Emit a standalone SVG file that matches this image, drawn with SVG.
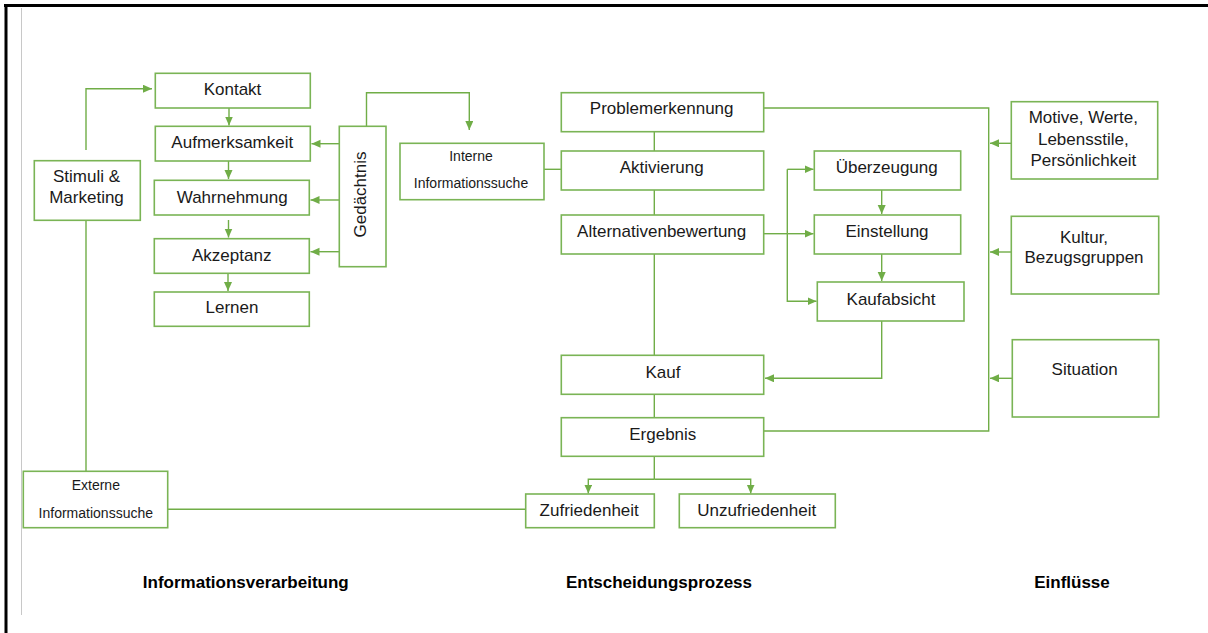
<svg xmlns="http://www.w3.org/2000/svg" width="1208" height="633" viewBox="0 0 1208 633">
<style>
.box{fill:#fff;stroke:#7ab455;stroke-width:1.6}
.t{font-family:"Liberation Sans",Arial,sans-serif;font-size:17px;fill:#1a1a1a;text-anchor:middle}
.s{font-size:14px}
.b{font-weight:bold;font-size:17px;fill:#000}
.c{fill:none;stroke:#70ad47;stroke-width:1.4}
.a{marker-end:url(#ah)}
</style>
<defs>
<marker id="ah" markerUnits="userSpaceOnUse" markerWidth="10" markerHeight="9" refX="9" refY="4" orient="auto">
<path d="M0,0 L9,4 L0,8 z" fill="#70ad47"/>
</marker>
</defs>
<rect width="1208" height="633" fill="#fff"/>
<line x1="4" y1="5.5" x2="1208" y2="5.5" stroke="#000" stroke-width="3"/>
<line x1="6" y1="4" x2="6" y2="633" stroke="#000" stroke-width="3"/>
<line x1="21.5" y1="8" x2="21.5" y2="615" stroke="#c8c8c8" stroke-width="1"/>

<g id="connectors">
<path class="c a" d="M86,150 V88.7 H152"/>
<path class="c" d="M86,220.3 V471"/>
<path class="c a" d="M229,108 V125.5"/>
<path class="c a" d="M228.5,161 V179"/>
<path class="c a" d="M228.5,220 V237.5"/>
<path class="c a" d="M228,273.3 V291"/>
<path class="c a" d="M339.3,143.7 H311.5"/>
<path class="c a" d="M339.3,200 H310.5"/>
<path class="c a" d="M339.3,251.7 H310.5"/>
<path class="c a" d="M366.5,126.3 V92.7 H469.3 V130"/>
<path class="c" d="M544,169.3 H561.3"/>
<path class="c" d="M654.3,131.7 V151"/>
<path class="c" d="M654.3,190 V215"/>
<path class="c" d="M654.3,254 V355.3"/>
<path class="c" d="M654.3,394.3 V417.7"/>
<path class="c" d="M763.7,233.7 H787.3"/>
<path class="c a" d="M787.3,169.3 H813.5"/>
<path class="c a" d="M787.3,233.7 H813.5"/>
<path class="c a" d="M787.3,233.7 V301.3 H816.5"/>
<path class="c" d="M787.3,169.3 V233.7"/>
<path class="c a" d="M881.7,190 V214"/>
<path class="c a" d="M881.7,254 V281"/>
<path class="c a" d="M881.7,321 V378.3 H765"/>
<path class="c" d="M763.7,108 H988.7 V431 H763.7"/>
<path class="c a" d="M1011.3,143.3 H990"/>
<path class="c a" d="M1011.3,252 H990"/>
<path class="c a" d="M1012.3,378.3 H990"/>
<path class="c" d="M654.3,456.3 V479.3"/>
<path class="c a" d="M654.3,479.3 H588.3 V493.5"/>
<path class="c a" d="M654.3,479.3 H750.7 V493.5"/>
<path class="c" d="M167.7,509.3 H525.7"/>
</g>

<g id="kontakt"><rect class="box" x="155.3" y="73.3" width="155" height="34.7"/><text class="t" x="232.5" y="94.5">Kontakt</text></g>
<g id="aufmerksamkeit"><rect class="box" x="155.3" y="126.3" width="155" height="34.7"/><text class="t" x="232.3" y="147.7">Aufmerksamkeit</text></g>
<g id="wahrnehmung"><rect class="box" x="154.3" y="180.3" width="155" height="34.7"/><text class="t" x="232.2" y="202.7">Wahrnehmung</text></g>
<g id="akzeptanz"><rect class="box" x="154.3" y="238.7" width="155" height="34.6"/><text class="t" x="231.7" y="261">Akzeptanz</text></g>
<g id="lernen"><rect class="box" x="154.3" y="292" width="155" height="34.3"/><text class="t" x="232" y="313.3">Lernen</text></g>
<g id="stimuli"><rect class="box" x="34.3" y="160.7" width="106" height="59.6"/><text class="t" x="86.5" y="181.7">Stimuli &amp;</text><text class="t" x="86.5" y="203.3">Marketing</text></g>
<g id="gedaechtnis"><rect class="box" x="339.3" y="126.3" width="46.7" height="140.4"/><text class="t" transform="translate(366,194.5) rotate(-90)" x="0" y="0">Gedächtnis</text></g>
<g id="interne"><rect class="box" x="400" y="143.3" width="144" height="56.4"/><text class="t s" x="471" y="161">Interne</text><text class="t s" x="471" y="188.3">Informationssuche</text></g>
<g id="externe"><rect class="box" x="23.3" y="471.3" width="144.4" height="56.4"/><text class="t s" x="95.8" y="490">Externe</text><text class="t s" x="95.8" y="517.7">Informationssuche</text></g>
<g id="problemerkennung"><rect class="box" x="561.3" y="92.7" width="202.4" height="39"/><text class="t" x="661.7" y="114.3">Problemerkennung</text></g>
<g id="aktivierung"><rect class="box" x="561.3" y="151" width="202.4" height="39"/><text class="t" x="661.7" y="172.7">Aktivierung</text></g>
<g id="alternativenbewertung"><rect class="box" x="561.3" y="215" width="202.4" height="39"/><text class="t" x="661.7" y="236.7">Alternativenbewertung</text></g>
<g id="kauf"><rect class="box" x="561.3" y="355.3" width="202.4" height="39"/><text class="t" x="663" y="378.3">Kauf</text></g>
<g id="ergebnis"><rect class="box" x="561.3" y="417.7" width="202.4" height="38.6"/><text class="t" x="662.8" y="439.7">Ergebnis</text></g>
<g id="zufriedenheit"><rect class="box" x="525.7" y="494" width="128.6" height="33.7"/><text class="t" x="589.2" y="516">Zufriedenheit</text></g>
<g id="unzufriedenheit"><rect class="box" x="679.3" y="494" width="156" height="33.7"/><text class="t" x="756.7" y="516">Unzufriedenheit</text></g>
<g id="ueberzeugung"><rect class="box" x="814.3" y="151" width="146.4" height="39"/><text class="t" x="886.7" y="172.7">Überzeugung</text></g>
<g id="einstellung"><rect class="box" x="814.3" y="215" width="146.4" height="39"/><text class="t" x="887" y="236.7">Einstellung</text></g>
<g id="kaufabsicht"><rect class="box" x="817.3" y="282" width="146.7" height="39"/><text class="t" x="891" y="305">Kaufabsicht</text></g>
<g id="motive"><rect class="box" x="1011.3" y="101.7" width="146.4" height="77.3"/><text class="t" x="1083.3" y="123.3">Motive, Werte,</text><text class="t" x="1083.3" y="145">Lebensstile,</text><text class="t" x="1083.3" y="166">Persönlichkeit</text></g>
<g id="kultur"><rect class="box" x="1011.3" y="216.3" width="147.4" height="77.7"/><text class="t" x="1084" y="243.3">Kultur,</text><text class="t" x="1084" y="262.7">Bezugsgruppen</text></g>
<g id="situation"><rect class="box" x="1012.3" y="339.7" width="146.4" height="77.3"/><text class="t" x="1084.7" y="375">Situation</text></g>

<g id="labels">
<text class="t b" x="245.8" y="588">Informationsverarbeitung</text>
<text class="t b" x="659" y="588">Entscheidungsprozess</text>
<text class="t b" x="1072" y="588">Einflüsse</text>
</g>
</svg>
